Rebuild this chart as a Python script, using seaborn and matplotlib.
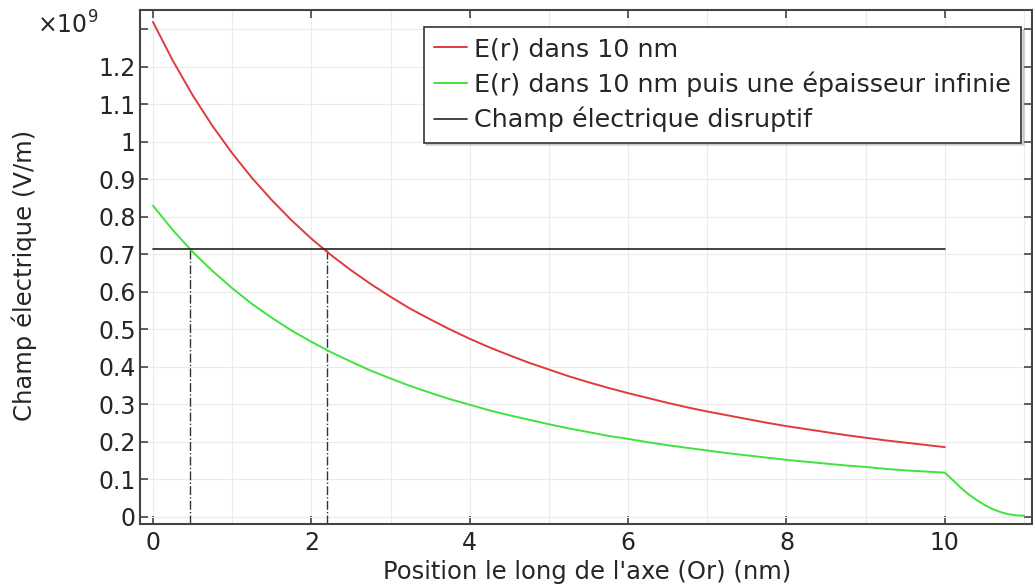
import numpy as np
import pandas as pd
import matplotlib
matplotlib.use("Agg")
import matplotlib.pyplot as plt
import seaborn as sns
from matplotlib.ticker import MultipleLocator

# values in units of 1e9 V/m
x_red = [0, 0.25, 0.5, 0.75, 1, 1.25, 1.5, 1.75, 2, 2.25, 2.5, 2.75, 3, 3.25, 3.5, 3.75,
         4, 4.25, 4.5, 4.75, 5, 5.25, 5.5, 5.75, 6, 6.25, 6.5, 6.75, 7, 7.25, 7.5, 7.75,
         8, 8.25, 8.5, 8.75, 9, 9.25, 9.5, 9.75, 10]
e_red = [1.320, 1.217, 1.125, 1.043, 0.970, 0.904, 0.845, 0.791, 0.742, 0.698, 0.658,
         0.621, 0.587, 0.555, 0.527, 0.500, 0.475, 0.452, 0.431, 0.411, 0.393, 0.375,
         0.359, 0.344, 0.330, 0.317, 0.304, 0.292, 0.281, 0.271, 0.261, 0.251, 0.242,
         0.234, 0.226, 0.218, 0.211, 0.204, 0.198, 0.192, 0.186]

x_green = [0, 0.25, 0.5, 0.75, 1, 1.25, 1.5, 1.75, 2, 2.25, 2.5, 2.75, 3, 3.25, 3.5, 3.75,
           4, 4.25, 4.5, 4.75, 5, 5.25, 5.5, 5.75, 6, 6.25, 6.5, 6.75, 7, 7.25, 7.5, 7.75,
           8, 8.25, 8.5, 8.75, 9, 9.25, 9.5, 9.75, 10,
           10.05, 10.1, 10.2, 10.3, 10.4, 10.5, 10.6, 10.7, 10.8, 10.9, 11.0]
e_green = [0.830, 0.765, 0.707, 0.656, 0.610, 0.568, 0.531, 0.497, 0.467, 0.439, 0.414,
           0.390, 0.369, 0.349, 0.331, 0.314, 0.299, 0.284, 0.271, 0.259, 0.247, 0.236,
           0.226, 0.216, 0.208, 0.199, 0.191, 0.184, 0.177, 0.170, 0.164, 0.158, 0.152,
           0.147, 0.142, 0.137, 0.133, 0.128, 0.124, 0.121, 0.118,
           0.108, 0.098, 0.078, 0.060, 0.045, 0.032, 0.021, 0.013, 0.007, 0.004, 0.003]

e_disruptif = 0.715
x_disruptif = [0, 10]
x_cross = [0.47, 2.2]

y_ticks = [0, 0.1, 0.2, 0.3, 0.4, 0.5, 0.6, 0.7, 0.8, 0.9, 1.0, 1.1, 1.2, 1.3]
y_labels = ["0", "0.1", "0.2", "0.3", "0.4", "0.5", "0.6", "0.7", "0.8", "0.9", "1", "1.1", "1.2", ""]

labels = ["E(r) dans 10 nm",
          "E(r) dans 10 nm puis une épaisseur infinie",
          "Champ électrique disruptif"]

df_red = pd.DataFrame({"x": x_red, "E": e_red})
df_green = pd.DataFrame({"x": x_green, "E": e_green})
df_black = pd.DataFrame({"x": x_disruptif, "E": [e_disruptif] * len(x_disruptif)})

sns.set_theme(style="ticks")
plt.rcParams["font.family"] = ["DejaVu Sans"]

fig = plt.figure(figsize=(10.33, 5.85), dpi=100)
ax = fig.add_axes([0.1355, 0.1043, 0.8635, 0.8787])

ylo, yhi = -0.019, 1.352
for xc in x_cross:
    ax.plot([xc, xc], [ylo, e_disruptif], color="#333333", lw=1.0, ls="-.", zorder=2)

sns.lineplot(data=df_red, x="x", y="E", ax=ax, color="#e03a3e", lw=1.4, label=labels[0], zorder=3)
sns.lineplot(data=df_green, x="x", y="E", ax=ax, color="#3fe23f", lw=1.4, label=labels[1], zorder=3)
sns.lineplot(data=df_black, x="x", y="E", ax=ax, color="#222222", lw=1.2, label=labels[2], zorder=3)

ax.set_xlim(-0.164, 11.1)
ax.set_ylim(ylo, yhi)

ax.xaxis.set_major_locator(MultipleLocator(2))
ax.xaxis.set_minor_locator(MultipleLocator(1))
ax.set_yticks(y_ticks)
ax.set_yticklabels(y_labels)

ax.grid(which="both", color="#ebebeb", lw=0.8)
ax.set_axisbelow(True)
ax.tick_params(which="major", direction="in", length=6, width=1.2, color="#444444",
               labelsize=17, pad=3, top=True, right=True)
ax.tick_params(axis="x", which="major", pad=5)
ax.tick_params(which="minor", length=0)
for s in ax.spines.values():
    s.set_color("#444444")
    s.set_linewidth(1.5)

ax.set_xlabel("")
ax.set_ylabel("")
fig.text(587 / 1033, 1 / 585, "Position le long de l'axe (Or) (nm)",
         fontsize=17.5, ha="center", va="bottom")
fig.text(24 / 1033, 1 - 275 / 585, "Champ électrique (V/m)",
         fontsize=17.5, ha="center", va="center", rotation=90)

fig.text(0.036, 0.957, r"$\times10^9$", fontsize=17, va="center")

leg = ax.legend(loc="upper right", bbox_to_anchor=(0.9877, 0.967), borderaxespad=0,
                fontsize=18.3, handlelength=1.3, handletextpad=0.28, labelspacing=0.4,
                fancybox=False, frameon=True, borderpad=0.4,
                shadow={"color": "#999999", "alpha": 0.35})
leg.get_frame().set_edgecolor("#333333")
leg.get_frame().set_linewidth(1.2)

fig.savefig("out.png", dpi=100)
